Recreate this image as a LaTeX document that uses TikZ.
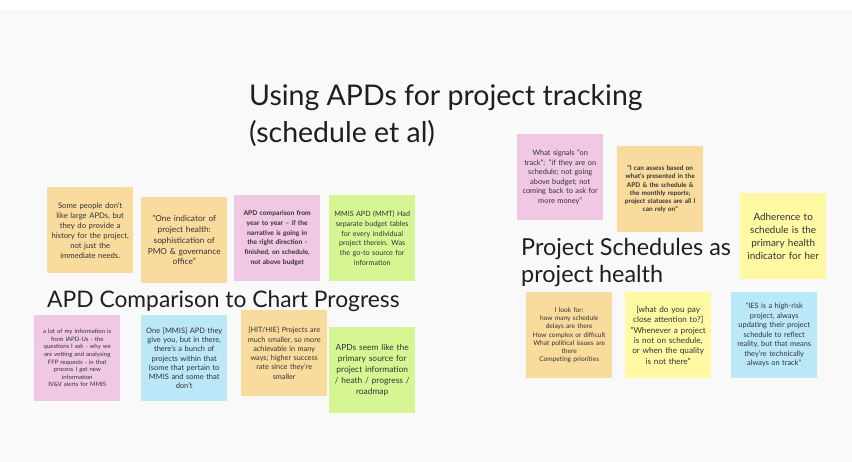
\documentclass[tikz,border=0pt]{standalone}
\usepackage{fontspec}
\setmainfont{Lato}
\usetikzlibrary{positioning}
\usepackage{xcolor}

\definecolor{boardgray}{HTML}{F9F9F9}
\definecolor{inkgray}{HTML}{333333}
\definecolor{stickyorange}{HTML}{F9DC9D}
\definecolor{stickypink}{HTML}{F0C8E4}
\definecolor{stickygreen}{HTML}{D6F694}
\definecolor{stickyblue}{HTML}{BAE8F8}
\definecolor{stickyyellow}{HTML}{FFF9A4}

\tikzset{
  note/.style={anchor=north west, minimum width=86pt, minimum height=86pt,
    inner sep=0pt, text width=84pt, align=center, text=inkgray},
  heading/.style={anchor=base west, text=black!88, inner sep=0pt}
}

\begin{document}
\begin{tikzpicture}[x=1pt, y=-1pt]
  \useasboundingbox (0,0) rectangle (852,462);
  %% Board
  \fill[white] (0,0) rectangle (852,462);
  \fill[boardgray] (0,10) rectangle (852,462);

  %% Titles
  \node[heading, font=\fontsize{28.5}{32}\selectfont] (title1) at (249,106)
    {Using APDs for project tracking};
  \node[heading, font=\fontsize{28.5}{32}\selectfont] (title2) at (249,143)
    {(schedule et al)};
  \node[heading, font=\fontsize{22.8}{26}\selectfont] (cmphead) at (47,308)
    {APD Comparison to Chart Progress};
  \node[heading, font=\fontsize{23.4}{26}\selectfont] (schedhead1) at (521,256)
    {Project Schedules as};
  \node[heading, font=\fontsize{23.4}{26}\selectfont] (schedhead2) at (521,283)
    {project health};

  %% Left group, top row
  \node[note, fill=stickyorange, font=\fontsize{7.7}{10}\selectfont] (largeapd) at (47,187)
    {Some people don't\\ like large APDs, but\\ they do provide a\\
     history for the project,\\ not just the\\ immediate needs.};
  \node[note, fill=stickyorange, font=\fontsize{8.3}{10.7}\selectfont] (indicator) at (141,197)
    {"One indicator of\\ project health:\\ sophistication of\\
     PMO \& governance\\ office"};
  \node[note, fill=stickypink, font=\bfseries\fontsize{6.7}{9.7}\selectfont] (yeartoyear) at (234,195)
    {APD comparison from\\ year to year -- if the\\ narrative is going in\\
     the right direction -\\ finished, on schedule,\\ not above budget};
  \node[note, fill=stickygreen, font=\fontsize{7.2}{9.7}\selectfont] (mmisapd) at (329,195)
    {MMIS APD (MMT) Had\\ separate budget tables\\ for every individual\\
     project therein. Was\\ the go-to source for\\ information};

  %% Left group, bottom row
  \node[note, fill=stickypink, font=\fontsize{6}{7.6}\selectfont] (iapdus) at (34,315)
    {a lot of my information is\\ from IAPD-Us - the\\ questions I ask - why we\\
     are vetting and analysing\\ FFP requests - in that\\ process I get new\\
     information\\ IV\&V alerts for MMIS};
  \node[note, fill=stickyblue, font=\fontsize{7.5}{9.3}\selectfont] (onemmis) at (141,315)
    {One [MMIS] APD they\\ give you, but in there,\\ there's a bunch of\\
     projects within that\\ (some that pertain to\\ MMIS and some that\\ don't};
  \node[note, fill=stickyorange, font=\fontsize{7.3}{9.3}\selectfont] (hithie) at (241,310)
    {[HIT/HIE] Projects are\\ much smaller, so more\\ achievable in many\\
     ways; higher success\\ rate since they're\\ smaller};
  \node[note, fill=stickygreen, font=\fontsize{8.4}{10.8}\selectfont] (primarysrc) at (329,327)
    {APDs seem like the\\ primary source for\\ project information\\
     / heath / progress /\\ roadmap};

  %% Right group, top row
  \node[note, fill=stickypink, font=\fontsize{7.4}{9.5}\selectfont] (ontrack) at (517,134)
    {What signals "on\\ track": "if they are on\\ schedule; not going\\
     above budget; not\\ coming back to ask for\\ more money"};
  \node[note, fill=stickyorange, font=\bfseries\fontsize{6.5}{8.3}\selectfont] (assess) at (617,146)
    {"I can assess based on\\ what's presented in the\\ APD \& the schedule \&\\
     the monthly reports;\\ project statuses are all I\\ can rely on"};
  \node[note, fill=stickyyellow, font=\fontsize{9.9}{13}\selectfont] (adherence) at (740,193)
    {Adherence to\\ schedule is the\\ primary health\\ indicator for her};

  %% Right group, bottom row
  \node[note, fill=stickyorange, font=\fontsize{6.6}{8.1}\selectfont] (lookfor) at (526,292)
    {I look for:\\ how many schedule\\ delays are there\\ How complex or difficult\\
     What political issues are\\ there\\ Competing priorities};
  \node[note, fill=stickyyellow, font=\fontsize{8.2}{10.3}\selectfont] (attention) at (625,292)
    {[what do you pay\\ close attention to?]\\ "Whenever a project\\
     is not on schedule,\\ or when the quality\\ is not there"};
  \node[note, fill=stickyblue, font=\fontsize{7.4}{9.5}\selectfont] (highrisk) at (731,292)
    {"IES is a high-risk\\ project, always\\ updating their project\\
     schedule to reflect\\ reality, but that means\\ they're technically\\
     always on track"};
\end{tikzpicture}
\end{document}
